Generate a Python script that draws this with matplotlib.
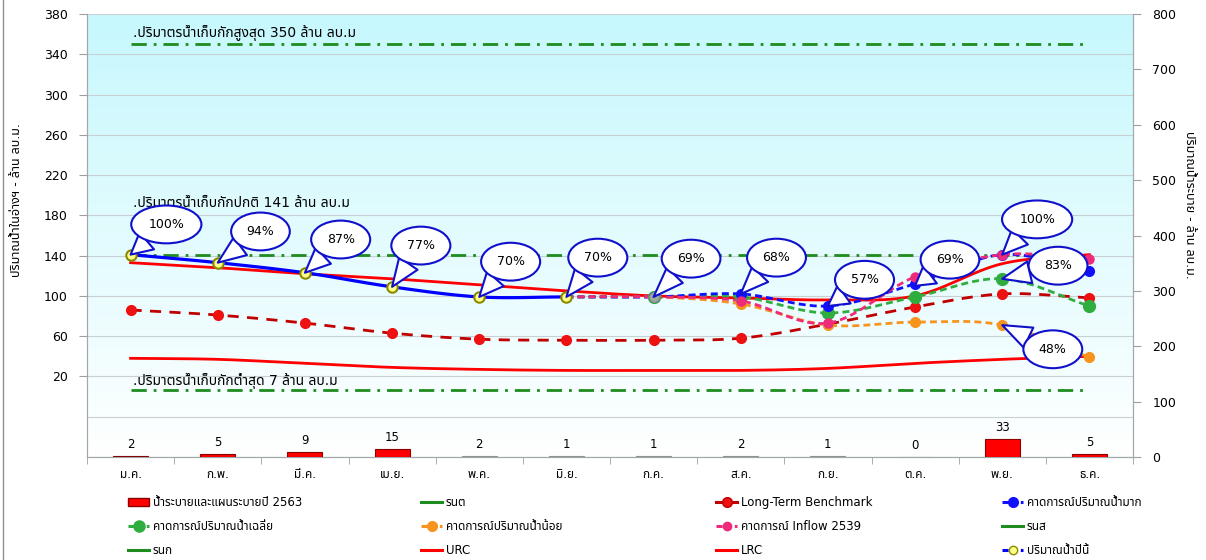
import numpy as np
import matplotlib
matplotlib.use('Agg')
import matplotlib.pyplot as plt
from matplotlib import font_manager as fm
from matplotlib.ft2font import FT2Font
from matplotlib.lines import Line2D
from matplotlib.patches import Patch

# ---------------- data ----------------
months = ['ม.ค.', 'ก.พ.', 'มี.ค.', 'เม.ย.', 'พ.ค.', 'มิ.ย.', 'ก.ค.', 'ส.ค.', 'ก.ย.', 'ต.ค.', 'พ.ย.', 'ธ.ค.']
release = [2, 5, 9, 15, 2, 1, 1, 2, 1, 0, 33, 5]
release_is_actual = [1, 1, 1, 1, 0, 0, 0, 0, 0, 0, 1, 1]
current_year = [141, 133, 123, 109, 99, 99]            # ม.ค. - มิ.ย.
benchmark = [86, 81, 73, 63, 57, 56, 56, 58, 72, 89, 102, 98]
fc_high = [99, 99, 102, 90, 112, 141, 125]              # มิ.ย. - ธ.ค.
fc_avg = [99, 99, 99, 83, 99, 117, 90]
fc_low = [99, 99, 92, 71, 74, 71, 39]
fc_2539 = [99, 99, 95, 73, 119, 141, 137]
urc = [133, 128, 122, 117, 111, 105, 100, 98, 96, 100, 132, 141]
lrc = [38, 37, 33, 29, 27, 26, 26, 26, 28, 33, 37, 40]
max_storage = 350
normal_storage = 141
min_storage = 7
level_labels = ['.ปริมาตรน้ำเก็บกักสูงสุด 350 ล้าน ลบ.ม',
                '.ปริมาตรน้ำเก็บกักปกติ 141 ล้าน ลบ.ม',
                '.ปริมาตรน้ำเก็บกักต่ำสุด 7 ล้าน ลบ.ม']
pct_labels = ['100%', '94%', '87%', '77%', '70%', '70%', '69%', '68%', '57%', '69%', '100%', '83%', '48%']
left_ticks = [380, 340, 300, 260, 220, 180, 140, 100, 60, 20]
right_ticks = [0, 100, 200, 300, 400, 500, 600, 700, 800]

# ---------------- fonts ----------------
thai = []
for f in fm.fontManager.ttflist:
    try:
        if FT2Font(f.fname).get_char_index(0x0E01) and f.name not in thai:
            thai.append(f.name)
    except Exception:
        pass
pref = ['Tahoma', 'Noto Sans Thai', 'Noto Sans Thai UI', 'Loma', 'Garuda', 'Sarabun', 'Kinnari']
thai.sort(key=lambda n: pref.index(n) if n in pref else 99)
plt.rcParams['font.family'] = ['DejaVu Sans'] + thai


def smooth(xs, ys, n=24):
    P = np.column_stack([np.asarray(xs, float), np.asarray(ys, float)])
    P = np.vstack([2 * P[0] - P[1], P, 2 * P[-1] - P[-2]])
    out = []
    t = np.linspace(0, 1, n, endpoint=False)[:, None]
    for i in range(1, len(P) - 2):
        p0, p1, p2, p3 = P[i - 1], P[i], P[i + 1], P[i + 2]
        out.append(0.5 * (2 * p1 + (-p0 + p2) * t + (2 * p0 - 5 * p1 + 4 * p2 - p3) * t ** 2
                          + (-p0 + 3 * p1 - 3 * p2 + p3) * t ** 3))
    out.append(P[-2][None, :])
    out = np.vstack(out)
    return out[:, 0], out[:, 1]


W, H = 1206, 560
fig = plt.figure(figsize=(W / 100, H / 100), dpi=100)
L, R, T, B = 87, 1133, 14, 457
ax = fig.add_axes([L / W, 1 - B / H, (R - L) / W, (B - T) / H])
ax.set_xlim(-0.5, 11.5)
ax.set_ylim(-60, 380)

# gradient background
grad = np.linspace(0, 1, 256)[:, None]
top = np.array([198, 248, 253]) / 255
bot = np.array([255, 255, 255]) / 255
img = (top[None, None, :] * (1 - grad[..., None]) + bot[None, None, :] * grad[..., None])
ax.imshow(img, extent=[0, 1, 0, 1], transform=ax.transAxes, aspect='auto', zorder=0)
ax.set_facecolor('white')

# grid
for v in list(range(380, -61, -40)):
    ax.axhline(v, color='#c8d0d4', lw=0.8, zorder=0.5)

x = np.arange(12)
xf = np.arange(5, 12)

# level lines
for v in [max_storage, normal_storage, min_storage]:
    ln, = ax.plot([0, 11], [v, v], color='#1e8c1e', lw=2, zorder=2)
    ln.set_dashes([5.5, 2.5, 1, 2.5])
for lab, yv in zip(level_labels, [361, 192, 15.6]):
    ax.text(0.03, yv, lab, fontsize=10, ha='left', va='center', color='black', zorder=3)

# rule curves
sx, sy = smooth(x, lrc)
ax.plot(sx, sy, color='#ff0000', lw=2, zorder=3)
sx, sy = smooth(x, urc)
ax.plot(sx, sy, color='#ff0000', lw=2, zorder=3)

# long-term benchmark
sx, sy = smooth(x, benchmark)
ax.plot(sx, sy, color='#c00000', lw=2, dashes=(4, 3), zorder=3)
ax.plot(x, benchmark, ls='none', marker='o', ms=7, mfc='#ee1111', mec='#ee1111', zorder=4)

# forecasts
fc_styles = [(fc_low, '#f7941d', 7), (fc_avg, '#2fae3f', 8.5), (fc_high, '#1010ff', 7), (fc_2539, '#ee2a7b', 6.5)]
for data, c, ms in fc_styles:
    sx, sy = smooth(xf, data)
    ax.plot(sx, sy, color=c, lw=2, dashes=(2.5, 1.5), zorder=4)
    ax.plot(xf[1:], data[1:], ls='none', marker='o', ms=ms, mfc=c, mec=c, zorder=5)
ax.plot([6], [fc_avg[1]], ls='none', marker='o', ms=7, mfc='#a0a8a0', mec='#8a948a', zorder=6)

# current year
xc = np.arange(len(current_year))
sx, sy = smooth(xc, current_year)
ax.plot(sx, sy, color='#0000ff', lw=2.3, zorder=6)
ax.plot(xc, current_year, ls='none', marker='o', ms=7.5, mfc='#ffff88', mec='#8a8a00', mew=1.5, zorder=7)

# callouts: (target x, target y, text x, text y)
callouts = [(0, 141, 0.41, 171), (1, 133, 1.49, 164), (2, 123, 2.41, 156), (3, 109, 3.33, 150),
            (4, 99, 4.36, 134), (5, 99, 5.36, 138), (6, 99, 6.43, 137), (7, 102, 7.41, 138),
            (8, 90, 8.42, 116), (9, 110, 9.40, 136), (10, 141, 10.40, 176), (10, 117, 10.64, 130),
            (10, 71, 10.58, 47)]
for lab, (tx, ty, bx, by) in zip(pct_labels, callouts):
    ax.annotate(lab, xy=(tx, ty), xytext=(bx, by), fontsize=9, ha='center', va='center', zorder=9,
                bbox=dict(boxstyle='ellipse,pad=0.55', fc='white', ec='#1010cc', lw=1.5),
                arrowprops=dict(arrowstyle='wedge,tail_width=1.6,shrink_factor=0.5', fc='white',
                                ec='#1010cc', lw=1.5, mutation_scale=10, shrinkA=0, shrinkB=0))

# axes styling
ax.set_yticks(left_ticks)
ax.set_yticklabels([str(v) for v in left_ticks], fontsize=9)
ax.set_xticks(x)
ax.set_xticklabels(months, fontsize=8.5)
ax.set_xticks(np.arange(-0.5, 12, 1), minor=True)
ax.tick_params(axis='x', which='major', length=0, pad=8)
ax.tick_params(axis='x', which='minor', length=5, color='#a0a0a0', direction='out')
ax.tick_params(axis='y', length=6, color='#a0a0a0', pad=8)
for s in ['left', 'bottom', 'top', 'right']:
    ax.spines[s].set_color('#a0a8ac')
ax.spines['top'].set_visible(False)

# release bars on right axis
ax2 = ax.twinx()
ax2.set_ylim(0, 800)
ax2.set_xlim(-0.5, 11.5)
colors = ['#ff0000' if a else '#a8a8a8' for a in release_is_actual]
edges = ['#8b0000' if a else '#909090' for a in release_is_actual]
ax2.bar(x, release, width=0.4, color=colors, edgecolor=edges, lw=0.8, zorder=3)
for xi, v in zip(x, release):
    ax2.text(xi, v + 9, str(v), ha='center', va='bottom', fontsize=8.5)
ax2.set_yticks(right_ticks)
ax2.set_yticklabels([str(v) for v in right_ticks], fontsize=9)
ax2.tick_params(axis='y', length=6, color='#a0a0a0', pad=8)
for s in ['left', 'bottom', 'top', 'right']:
    ax2.spines[s].set_color('#a0a8ac')
ax2.spines['top'].set_visible(False)

fig.text(17 / W, 1 - 200 / H, 'ปริมาณน้ำในอ่างฯ - ล้าน ลบ.ม.', rotation=90, ha='center', va='center', fontsize=9)
fig.text(1190 / W, 1 - 205 / H, 'ปริมาณน้ำระบาย - ล้าน ลบ.ม.', rotation=-90, ha='center', va='center', fontsize=9)

# outer border line at left
fig.add_artist(Line2D([3 / W, 3 / W], [0, 1], color='#909090', lw=1))

# legend (4 columns, row-major)
def mk(c, mfc=None, ls='-', marker=None, ms=7, mec=None, dashes=None):
    h = Line2D([], [], color=c, lw=2.2, ls=ls, marker=marker, ms=ms, mfc=mfc or c, mec=mec or c)
    if dashes:
        h.set_dashes(dashes)
    return h

entries = [
    (Patch(fc='#ff0000', ec='#8b0000'), 'น้ำระบายและแผนระบายปี 2563'),
    (mk('#1e8c1e'), 'รนต'),
    (mk('#c00000', mfc='#ee1111', marker='o'), 'Long-Term Benchmark'),
    (mk('#1010ff', marker='o', dashes=(2, 1)), 'คาดการณ์ปริมาณน้ำมาก'),
    (mk('#2fae3f', marker='o', ms=8, dashes=(2, 1)), 'คาดการณ์ปริมาณน้ำเฉลี่ย'),
    (mk('#f7941d', marker='o', dashes=(2, 1)), 'คาดการณ์ปริมาณน้ำน้อย'),
    (mk('#ee2a7b', marker='o', ms=6, dashes=(2, 1)), 'คาดการณ์ Inflow 2539'),
    (mk('#1e8c1e'), 'รนส'),
    (mk('#1e8c1e'), 'รนก'),
    (mk('#ff0000'), 'URC'),
    (mk('#ff0000'), 'LRC'),
    (mk('#0000ff', marker='o', mfc='#ffff88', mec='#8a8a00', ms=6, dashes=(2, 1)), 'ปริมาณน้ำปีนี้'),
]
col_x = [128, 421, 716, 1002]
for c in range(4):
    hs = [entries[r * 4 + c][0] for r in range(3)]
    ls = [entries[r * 4 + c][1] for r in range(3)]
    fig.legend(hs, ls, loc='upper left', bbox_to_anchor=(col_x[c] / W, 1 - 496 / H), frameon=False,
               fontsize=8.5, handlelength=1.8, handletextpad=0.3, labelspacing=0.95, borderpad=0,
               borderaxespad=0)

fig.savefig('out.png', dpi=100)
